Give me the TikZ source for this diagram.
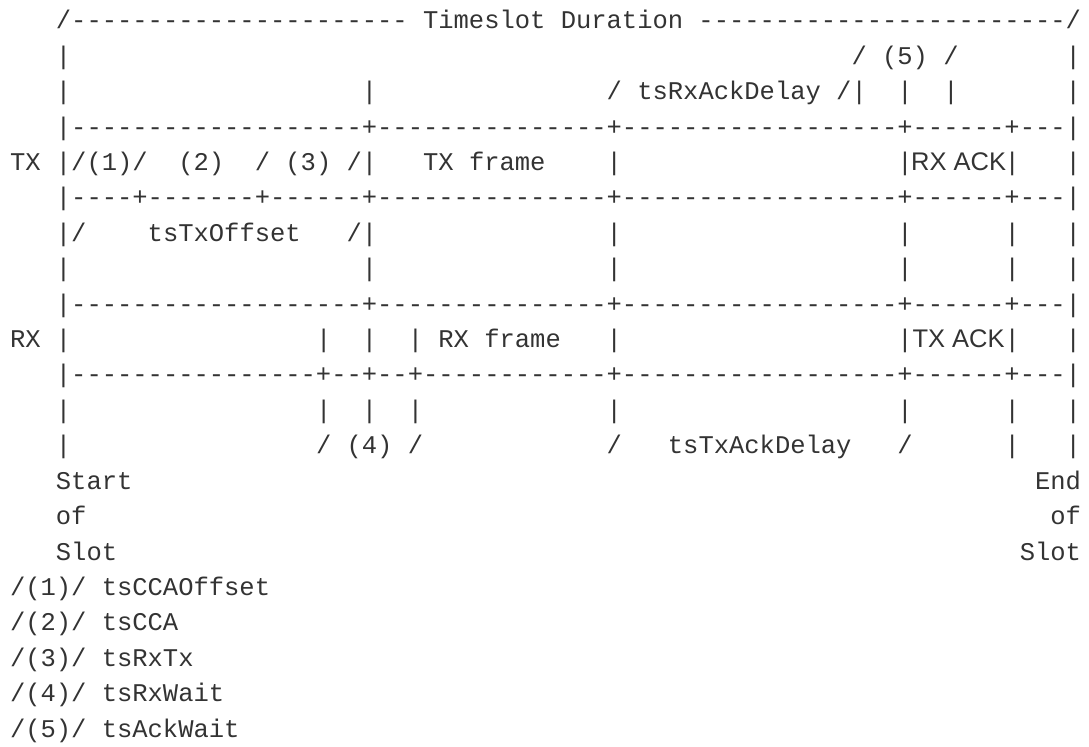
\documentclass[tikz,border=0pt]{standalone}
\usepackage{fontspec}
\setmonofont{Liberation Mono}
\newfontfamily\acksans{Liberation Sans}
\usepackage{tikz}
\usetikzlibrary{positioning}
\definecolor{asciigray}{HTML}{333333}

\begin{document}
\begin{tikzpicture}[
  x=11.475pt, y=-26.55pt,
  ascii/.style={inner sep=0pt, outer sep=0pt, anchor=base west, text=asciigray, font=\ttfamily\fontsize{19.125}{22}\selectfont},
  ackbox/.style={inner sep=0pt, outer sep=0pt, anchor=base, text=asciigray, font=\acksans\fontsize{19.125}{22}\selectfont}
]
  \useasboundingbox (-0.6536,0.1808) rectangle (70.523,21.282);

  % Timeslot duration
  \node[ascii] (duration) at (3,1) {/---------------------- Timeslot Duration ------------------------/};

  % Top markers
  \foreach \c in {3,69} \node[ascii] (bar2-\c) at (\c,2) {|};
  \node[ascii] (ackwait) at (55,2) {/ (5) /};
  \foreach \c in {3,23,58,61,69} \node[ascii] (bar3-\c) at (\c,3) {|};
  \node[ascii] (rxackdelay) at (39,3) {/ tsRxAckDelay /|};

  % TX row
  \node[ascii] (sep4) at (3,4) {|-------------------+---------------+------------------+------+---|};
  \node[ascii] (tx) at (0,5) {TX};
  \node[ascii] (ccaoffset) at (3,5) {|/(1)/};
  \node[ascii] (cca) at (11,5) {(2)};
  \node[ascii] (rxtx) at (16,5) {/ (3) /|};
  \node[ascii] (txframe) at (27,5) {TX frame};
  \foreach \c in {39,58,65,69} \node[ascii] (bar5-\c) at (\c,5) {|};
  \node[ackbox] (rxack) at (62,5) {RX ACK};
  \node[ascii] (sep6) at (3,6) {|----+-------+------+---------------+------------------+------+---|};

  % TX offset
  \node[ascii] (txoffsetl) at (3,7) {|/};
  \node[ascii] (txoffset) at (9,7) {tsTxOffset};
  \node[ascii] (txoffsetr) at (22,7) {/|};
  \foreach \c in {39,58,65,69} \node[ascii] (bar7-\c) at (\c,7) {|};
  \foreach \c in {3,23,39,58,65,69} \node[ascii] (bar8-\c) at (\c,8) {|};

  % RX row
  \node[ascii] (sep9) at (3,9) {|-------------------+---------------+------------------+------+---|};
  \node[ascii] (rx) at (0,10) {RX};
  \foreach \c in {3,20,23,39,58,65,69} \node[ascii] (bar10-\c) at (\c,10) {|};
  \node[ascii] (rxframe) at (26,10) {| RX frame};
  \node[ackbox] (txack) at (62,10) {TX ACK};
  \node[ascii] (sep11) at (3,11) {|----------------+--+--+------------+------------------+------+---|};

  % Bottom markers
  \foreach \c in {3,20,23,26,39,58,65,69} \node[ascii] (bar12-\c) at (\c,12) {|};
  \foreach \c in {3,65,69} \node[ascii] (bar13-\c) at (\c,13) {|};
  \node[ascii] (rxwait) at (20,13) {/ (4) /};
  \node[ascii] (txackdelayl) at (39,13) {/};
  \node[ascii] (txackdelay) at (43,13) {tsTxAckDelay};
  \node[ascii] (txackdelayr) at (58,13) {/};

  % Slot edges
  \node[ascii] (start1) at (3,14) {Start};
  \node[ascii] (start2) at (3,15) {of};
  \node[ascii] (start3) at (3,16) {Slot};
  \node[ascii] (end1) at (67,14) {End};
  \node[ascii] (end2) at (68,15) {of};
  \node[ascii] (end3) at (66,16) {Slot};

  % Legend
  \node[ascii] (legend1) at (0,17) {/(1)/ tsCCAOffset};
  \node[ascii] (legend2) at (0,18) {/(2)/ tsCCA};
  \node[ascii] (legend3) at (0,19) {/(3)/ tsRxTx};
  \node[ascii] (legend4) at (0,20) {/(4)/ tsRxWait};
  \node[ascii] (legend5) at (0,21) {/(5)/ tsAckWait};
\end{tikzpicture}
\end{document}
